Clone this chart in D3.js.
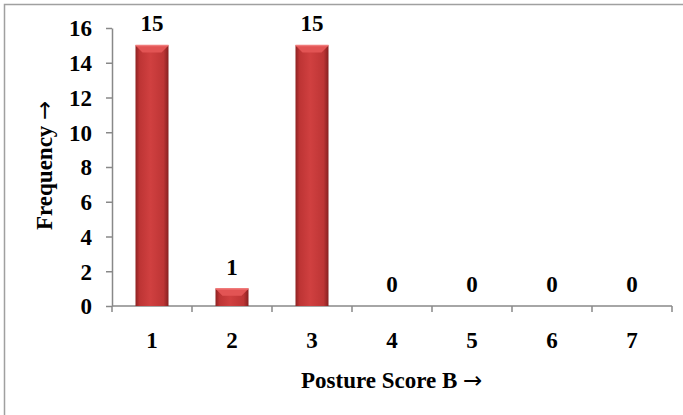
<!DOCTYPE html>
<html>
<head>
<meta charset="utf-8">
<script src="https://cdn.jsdelivr.net/npm/d3@7"></script>
<style>
  html, body { margin: 0; padding: 0; background: #fff; }
  svg { display: block; }
  text { font-family: "Liberation Serif", "Times New Roman", serif; font-weight: bold; fill: #000; }
  tspan.arrow { font-family: "DejaVu Sans", sans-serif; font-weight: normal; }
</style>
</head>
<body>
<svg id="chart" width="683" height="415"></svg>
<script>
// posture score B frequencies
const categories = ["1", "2", "3", "4", "5", "6", "7"];
const frequencies = [15, 1, 15, 0, 0, 0, 0];
const yTicks = [0, 2, 4, 6, 8, 10, 12, 14, 16];
const xTitle = "Posture Score B";
const yTitle = "Frequency";
const arrow = "\u2192";

const W = 683, H = 415;
const margin = { top: 28, right: 11, bottom: 109, left: 112 };
const w = W - margin.left - margin.right;
const h = H - margin.top - margin.bottom;
const fs = 23;

const svg = d3.select("#chart");

// outer frame (top and left visible)
svg.append("rect")
  .attr("x", 4.5).attr("y", 4.5)
  .attr("width", W + 10).attr("height", H + 10)
  .attr("fill", "none")
  .attr("stroke", "#a0a0a0")
  .attr("stroke-width", 1.5);

const defs = svg.append("defs");
const grad = defs.append("linearGradient").attr("id", "barGrad")
  .attr("x1", "0").attr("x2", "1").attr("y1", "0").attr("y2", "0");
grad.append("stop").attr("offset", "0%").attr("stop-color", "#8e2222");
grad.append("stop").attr("offset", "12%").attr("stop-color", "#bd3434");
grad.append("stop").attr("offset", "45%").attr("stop-color", "#d04040");
grad.append("stop").attr("offset", "85%").attr("stop-color", "#bd3535");
grad.append("stop").attr("offset", "100%").attr("stop-color", "#862020");

const g = svg.append("g").attr("transform", `translate(${margin.left},${margin.top})`);

const x = d3.scaleBand().domain(categories).range([0, w]).paddingInner(0).paddingOuter(0);
const y = d3.scaleLinear().domain([0, 16]).range([h, 0]);

// y axis
const yAxis = g.append("g")
  .call(d3.axisLeft(y).tickValues(yTicks).tickSize(6).tickSizeOuter(0).tickPadding(14));
yAxis.select(".domain").attr("stroke", "#888").attr("stroke-width", 1.5);
yAxis.selectAll(".tick line").attr("stroke", "#888").attr("stroke-width", 1.5);
yAxis.selectAll(".tick text")
  .attr("font-size", fs)
  .attr("dy", "0.34em");

// x axis: ticks at category boundaries
const xAxis = g.append("g").attr("transform", `translate(0,${h})`);
xAxis.append("line")
  .attr("x1", 0).attr("x2", w)
  .attr("stroke", "#888").attr("stroke-width", 1.5);
const bounds = categories.map(c => x(c)).concat([w]);
xAxis.selectAll("line.tk").data(bounds).enter().append("line")
  .attr("class", "tk")
  .attr("x1", d => d).attr("x2", d => d)
  .attr("y1", 0).attr("y2", 6)
  .attr("stroke", "#888").attr("stroke-width", 1.5);
xAxis.selectAll("text.xl").data(categories).enter().append("text")
  .attr("class", "xl")
  .attr("x", d => x(d) + x.bandwidth() / 2)
  .attr("y", 42)
  .attr("text-anchor", "middle")
  .attr("font-size", fs)
  .text(d => d);

// bars
const barW = 33;
const bars = g.selectAll(".bar")
  .data(categories.map((c, i) => ({ c, v: frequencies[i] })).filter(d => d.v > 0))
  .enter().append("g").attr("class", "bar")
  .attr("transform", d => `translate(${x(d.c) + x.bandwidth() / 2 - barW / 2},0)`);

bars.append("rect")
  .attr("x", 0).attr("y", d => y(d.v))
  .attr("width", barW).attr("height", d => h - y(d.v))
  .attr("fill", "url(#barGrad)");

// top bevel
bars.append("path")
  .attr("d", d => {
    const t = y(d.v), b = 7;
    return `M0,${t}L${barW},${t}L${barW - b},${t + b}L${b},${t + b}Z`;
  })
  .attr("fill", "#e25454");
bars.append("path")
  .attr("d", d => {
    const t = y(d.v);
    return `M0,${t}L${barW},${t}`;
  })
  .attr("stroke", "#f07a7a").attr("stroke-width", 1.5);

// value labels
g.selectAll(".val")
  .data(categories.map((c, i) => ({ c, v: frequencies[i] })))
  .enter().append("text")
  .attr("class", "val")
  .attr("x", d => x(d.c) + x.bandwidth() / 2)
  .attr("y", d => y(d.v) - 14)
  .attr("text-anchor", "middle")
  .attr("font-size", fs)
  .text(d => d.v);

// axis titles
const xt = svg.append("text")
  .attr("x", 301).attr("y", 388)
  .attr("font-size", fs);
xt.append("tspan").text(xTitle + " ");
xt.append("tspan").attr("class", "arrow").text(arrow);

const yt = svg.append("text")
  .attr("transform", "translate(52,230) rotate(-90)")
  .attr("font-size", fs);
yt.append("tspan").text(yTitle + " ");
yt.append("tspan").attr("class", "arrow").text(arrow);
</script>
</body>
</html>
